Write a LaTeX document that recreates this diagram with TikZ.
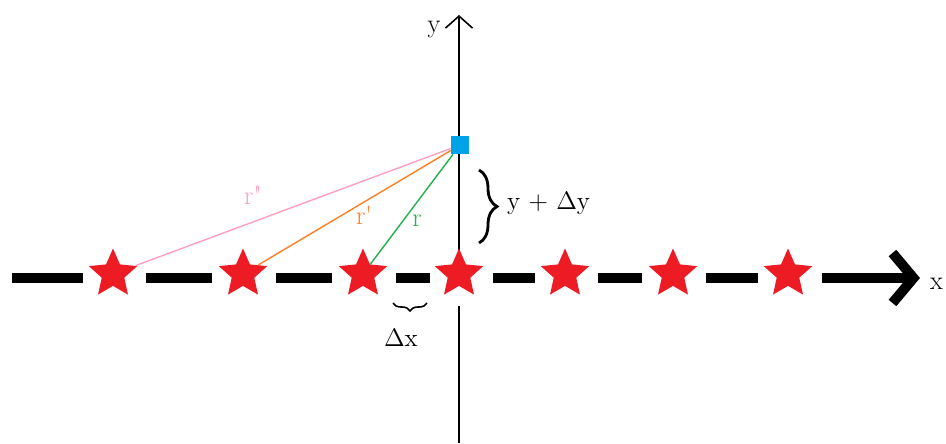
\documentclass[tikz,border=0pt]{standalone}
\usetikzlibrary{shapes.geometric,arrows.meta,decorations.pathreplacing}
\definecolor{starred}{RGB}{237,28,36}
\definecolor{ptblue}{RGB}{0,162,232}
\definecolor{ptpink}{RGB}{255,160,195}
\definecolor{ptorange}{RGB}{255,127,39}
\definecolor{ptgreen}{RGB}{34,177,76}
\begin{document}
\begin{tikzpicture}[x=0.02cm,y=-0.02cm,every node/.style={font=\fontsize{15}{17}\selectfont,inner sep=1pt},
  starnode/.style={star,star points=5,star point ratio=2.15,fill=starred,draw=none,minimum size=1.02cm,inner sep=0pt},
  sq/.style={rectangle,fill=ptblue,draw=none,minimum size=0.36cm,inner sep=0pt},
  axisdash/.style={line width=0.2cm},
  rline/.style={line width=0.8pt},
  bigfont/.style={font=\fontsize{14.5}{17}\selectfont}]
\useasboundingbox (0,0) rectangle (946,443);
\clip (0,0) rectangle (946,443);
\coordinate (ytop) at (459,15);
\coordinate (ymid) at (459,255);
\coordinate (ygap) at (459,306);
\coordinate (ybot) at (459,443);
\draw[line width=0.9pt,-{Straight Barb[length=0.24cm,width=0.54cm]}] (ymid) -- (ytop);
\draw[line width=0.9pt] (ygap) -- (ybot);
% dashed x axis
\foreach \a/\b in {12/83,146/212,276/332,396/430,493/535,598/642,706/758}
  \draw[axisdash] (\a,278) -- (\b,278);
\coordinate (xa) at (822,278);
\coordinate (xb) at (920,278);
\draw[axisdash,-{Straight Barb[length=0.42cm,width=1.0cm]}] (xa) -- (xb);
% charges on the axis
\foreach \n/\x in {1/113,2/243,3/363,4/459,5/565,6/673,7/788}
  \node[starnode] (s\n) at (\x,274) {};
\node[sq] (P) at (460,145) {};
\draw[rline,ptpink] (P) -- (s1);
\draw[rline,ptorange] (P) -- (s2);
\draw[rline,ptgreen] (P) -- (s3);
\node[text=ptpink] (r2) at (253,195) {r\textquotedbl};
\node[text=ptorange] (r1) at (364,215) {r\textquotesingle};
\node[text=ptgreen] (r0) at (417,221) {r};
\node (ylab) at (434,30) {y};
\node[anchor=east] (xlab) at (945,284) {x};
% braces
\coordinate (b1) at (479,170);
\coordinate (b2) at (479,243);
\draw[decorate,decoration={brace,amplitude=0.36cm},line width=1.6pt] (b1) -- (b2);
\node[bigfont,anchor=west] (dy) at (505,203) {y + $\Delta$y};
\coordinate (c1) at (393,303);
\coordinate (c2) at (427,303);
\draw[decorate,decoration={brace,mirror,amplitude=0.16cm},line width=0.9pt] (c1) -- (c2);
\node[bigfont] (dx) at (401,338) {$\Delta$x};
\end{tikzpicture}
\end{document}
